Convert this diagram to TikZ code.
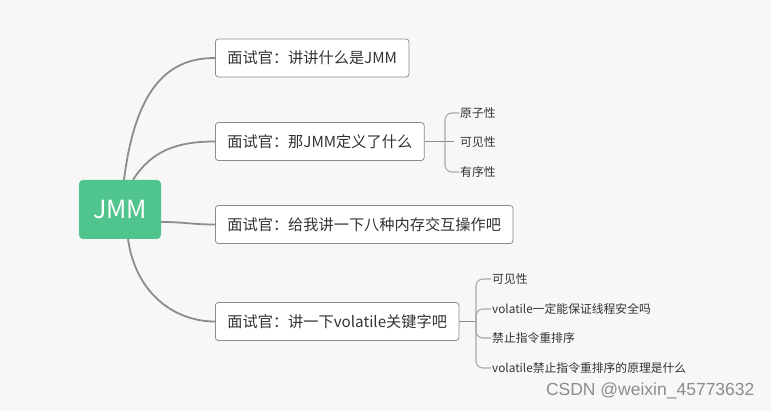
\documentclass[tikz,border=0pt]{standalone}
\usepackage{fontspec}
\setmainfont{Noto Sans CJK SC}
\newfontfamily\markfont{Liberation Sans}
\definecolor{jmmgreen}{HTML}{4FC48C}
\definecolor{linegray}{HTML}{8C8C8C}
\definecolor{subgray}{HTML}{A8A8A8}
\definecolor{bggray}{HTML}{F7F7F7}
\definecolor{textgray}{HTML}{333333}
\tikzset{
  topic/.style={draw=linegray, fill=white, rounded corners=3pt, anchor=west,
    minimum height=38pt, inner xsep=12pt, line width=0.8pt,
    font=\fontsize{15.2}{17}\selectfont, text=textgray},
  leaf/.style={anchor=west, inner sep=1pt, font=\fontsize{11.8}{14}\selectfont, text=textgray},
  branch/.style={draw=linegray, line width=1.8pt},
  twig/.style={draw=subgray, line width=1.1pt, rounded corners=7pt},
}
\begin{document}
\begin{tikzpicture}[x=1pt,y=-1pt]
      \fill[bggray] (0,0) rectangle (771,411);
      \useasboundingbox (0,0) rectangle (771,411);
      \node[fill=jmmgreen, rounded corners=4pt, minimum width=82pt, minimum height=59pt,
        text=white, font=\fontsize{25}{28}\selectfont] (jmm) at (120,209.5) {JMM};
      \node[topic] (q1) at (215,58) {面试官：讲讲什么是JMM};
      \node[topic] (q2) at (215,141.5) {面试官：那JMM定义了什么};
      \node[topic] (q3) at (215,224.5) {面试官：给我讲一下八种内存交互操作吧};
      \node[topic] (q4) at (215,321.5) {面试官：讲一下volatile关键字吧};
      % JMM branches
      \draw[branch] ([xshift=4pt]jmm.north) .. controls +(12,-95) and +(-45,0) .. (q1.west);
      \draw[branch] ([xshift=13pt]jmm.north) .. controls +(18,-28) and +(-40,0) .. (q2.west);
      \draw[branch] ([yshift=-12.5pt]jmm.east) .. controls +(25,0) and +(-25,0) .. (q3.west);
      \draw[branch] ([xshift=8pt]jmm.south) .. controls +(8,55) and +(-40,0) .. (q4.west);
      % what JMM defines
      \node[leaf] (a1) at (459,113) {原子性};
      \node[leaf] (a2) at (459,142) {可见性};
      \node[leaf] (a3) at (459,172) {有序性};
      \coordinate (h2) at (445,141.5);
      \coordinate (e2) at (454,141.5);
      \draw[branch, line width=1.4pt] (q2.east) -- (e2);
      \draw[twig] (h2) |- (a1.west);
      \draw[twig] (h2) |- (a3.west);
      % volatile
      \node[leaf] (b1) at (491,279) {可见性};
      \node[leaf] (b2) at (491,309) {volatile一定能保证线程安全吗};
      \node[leaf] (b3) at (491,338) {禁止指令重排序};
      \node[leaf] (b4) at (491,368) {volatile禁止指令重排序的原理是什么};
      \coordinate (h4) at (476,321.5);
      \draw[branch, line width=1.4pt] (q4.east) -- (h4);
      \draw[twig] (h4) |- (b1.west);
      \draw[twig] (h4) |- (b2.west);
      \draw[twig] (h4) |- (b3.west);
      \draw[twig] (h4) |- (b4.west);
      \node[anchor=east, text=black!45, font=\markfont\fontsize{17.5}{19}\selectfont] (mark) at (758,391) {CSDN @weixin\_45773632};
\end{tikzpicture}
\end{document}
